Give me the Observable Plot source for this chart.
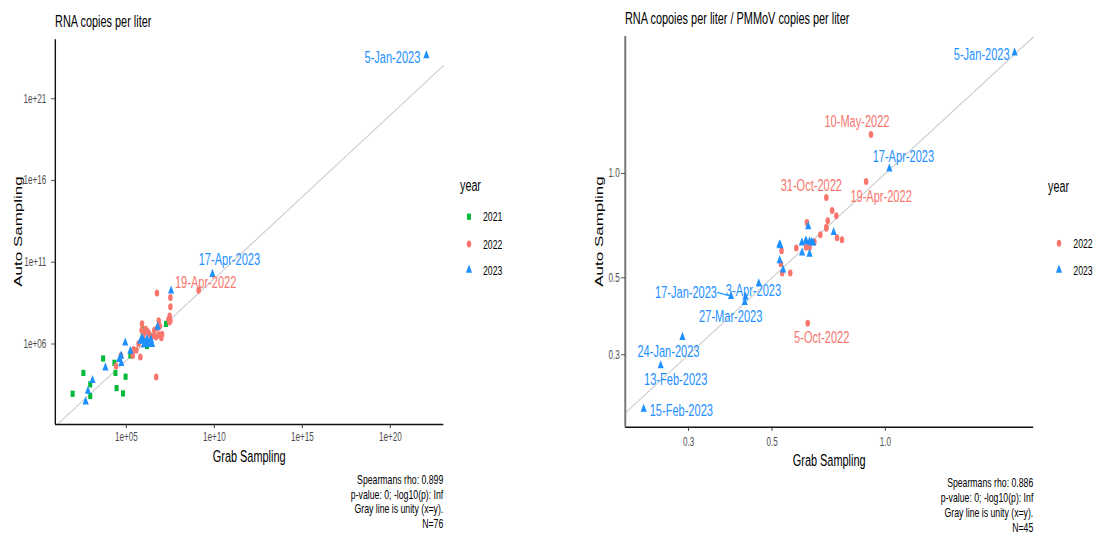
<!DOCTYPE html>
<html><head><meta charset="utf-8">
<script src="https://cdn.jsdelivr.net/npm/d3@7"></script>
<script src="https://cdn.jsdelivr.net/npm/@observablehq/plot@0.6"></script>
<style>
html,body{margin:0;padding:0;background:#fff;}
#root{position:relative;width:1095px;height:533px;overflow:hidden;font-family:"Liberation Sans",Arial,sans-serif;}
#wide{position:absolute;left:0;top:0;height:533px;transform-origin:0 0;}
#wide > *{position:absolute;top:0;}
</style></head><body><div id="root"><div id="wide"></div></div>
<script>
// ---------- Panel 1: RNA copies per liter ----------
const rnaGrab2021 = [89, 363, 891, 891, 4.8e3, 2.1e4, 2.4e4, 2.8e4, 6.5e4, 9.1e4, 1.7e5, 9.5e5, 1.5e6, 3.0e6, 1.8e7, 8.5e5];
const rnaAuto2021 = [910, 1.7e4, 660, 3.4e3, 1.3e5, 7.1e4, 1.7e4, 2.0e3, 950, 1.0e4, 2.0e5, 7.9e6, 7.6e5, 3.1e6, 1.7e7, 2.8e6];
const rnaLabels2021 = [];

const rnaGrab2022 = [1.29e9, 2.6e4, 5.0e4, 2.3e5, 2.6e5, 3.7e5, 5.0e5, 6.3e5, 7.8e5, 8.9e5, 1.05e6, 1.5e6, 1.86e6, 3.9e6, 4.9e6, 5.0e6, 5.5e6, 6.9e6, 7.9e6, 7.9e6, 9.8e6, 1.07e7, 2.5e7, 2.9e7, 3.2e7, 3.2e7, 3.2e7, 7.4e5, 5.9e6, 3.5e6, 6.9e6, 2.0e6, 2.8e7, 1.26e6];
const rnaAuto2022 = [1.95e9, 4.5e4, 2.0e5, 2.0e5, 4.7e5, 4.1e5, 1.05e6, 1.6e5, 1.74e7, 2.45e6, 4.9e6, 6.3e6, 4.9e6, 6.9e6, 2.7e6, 9.5e3, 1.32e9, 2.6e7, 1.26e7, 3.55e6, 2.45e6, 3.9e6, 3.2e7, 5.1e7, 2.6e7, 1.9e8, 6.9e8, 6.9e6, 1.0e7, 3.2e6, 3.5e6, 4.0e6, 2.2e7, 7.9e6];
const rnaLabels2022 = ["19-Apr-2022"];

const rnaGrab2023 = [1.12e22, 7.8e9, 490, 660, 1.2e3, 6.5e3, 4.0e4, 5.0e4, 5.2e4, 8.7e4, 1.7e5, 6.3e5, 7.8e5, 9.1e5, 1.5e6, 1.7e6, 2.3e6, 2.9e6, 6.0e6, 3.5e7, 1.26e6, 1.0e6, 2.5e6];
const rnaAuto2023 = [4.4e23, 1.86e10, 295, 1.32e3, 6.0e3, 3.55e4, 1.15e5, 1.86e5, 6.6e4, 1.2e6, 3.7e5, 1.5e6, 2.2e6, 1.66e6, 1.95e6, 9.5e5, 1.5e6, 9.5e5, 1.1e7, 1.78e9, 1.26e6, 8.9e5, 1.8e6];
const rnaLabels2023 = ["5-Jan-2023", "17-Apr-2023"];

const rnaXTicks = [1e5, 1e10, 1e15, 1e20];
const rnaYTicks = [1e6, 1e11, 1e16, 1e21];
const rnaXDomain = [9.25, 1.07e23];
const rnaYDomain = [12, 4e24];
const rnaCaption = ["Spearmans rho: 0.899", "p-value: 0; -log10(p): Inf", "Gray line is unity (x=y).", "N=76"];

// ---------- Panel 2: normalised by PMMoV ----------
const pmGrab2022 = [0.916, 0.889, 0.697, 0.622, 0.722, 0.741, 0.703, 0.619, 0.697, 0.672, 0.744, 0.767, 0.648, 0.616, 0.629, 0.580, 0.530, 0.528, 0.532, 0.559, 0.624, 0.697];
const pmAuto2022 = [1.296, 0.948, 0.853, 0.370, 0.782, 0.755, 0.730, 0.722, 0.699, 0.665, 0.652, 0.644, 0.634, 0.613, 0.613, 0.609, 0.598, 0.549, 0.516, 0.516, 0.628, 0.695];
const pmLabels2022 = ["10-May-2022", "19-Apr-2022", "31-Oct-2022", "5-Oct-2022"];

const pmGrab2023 = [2.206, 1.025, 0.389, 0.425, 0.423, 0.289, 0.253, 0.228, 0.624, 0.729, 0.600, 0.614, 0.629, 0.643, 0.523, 0.601, 0.629, 0.524, 0.535, 0.461, 0.617, 0.636, 0.526];
const pmAuto2023 = [2.229, 1.032, 0.442, 0.440, 0.425, 0.337, 0.279, 0.209, 0.703, 0.676, 0.631, 0.638, 0.635, 0.631, 0.623, 0.590, 0.586, 0.561, 0.527, 0.481, 0.636, 0.632, 0.620];
const pmLabels2023 = ["5-Jan-2023", "17-Apr-2023", "17-Jan-2023", "3-Apr-2023", "27-Mar-2023", "24-Jan-2023", "13-Feb-2023", "15-Feb-2023"];

const pmTicks = [0.3, 0.5, 1.0];
const pmXDomain = [0.2037, 2.477];
const pmYDomain = [0.1854, 2.483];
const pmCaption = ["Spearmans rho: 0.886", "p-value: 0; -log10(p): Inf", "Gray line is unity (x=y).", "N=45"];

const years3 = ["2021", "2022", "2023"];
const years2 = ["2022", "2023"];

// ---------- styling / layout ----------
const S = 0.65;               // horizontal squeeze of the reference rendering
const W = 1095 / S;
const FONT = "Liberation Sans, Arial, sans-serif";
const yearColors = {"2021": "#00BA38", "2022": "#F8766D", "2023": "#1E90FF"};
const yearSymbols = {"2021": "square", "2022": "circle", "2023": "triangle"};
const R = 3.5;
const TICK_FONT = 12.5;

// label placement (visible pixels relative to the point)
const nudgeLeft = {
  "5-Jan-2023": {anchor: "end", dx: -6, dy: 2},
  "17-Apr-2023": {dx: 17, dy: -15},
  "19-Apr-2022": {dx: 7, dy: -8}
};
const nudgeRight = {
  "5-Jan-2023": {anchor: "end", dx: -5, dy: 2},
  "10-May-2022": {dx: -14, dy: -13},
  "17-Apr-2023": {dx: 14, dy: -12},
  "31-Oct-2022": {dx: -15, dy: -12},
  "19-Apr-2022": {dx: 15, dy: 15},
  "5-Oct-2022": {dx: 14, dy: 14},
  "17-Jan-2023": {dx: -45, dy: -4},
  "3-Apr-2023": {dx: 8, dy: -7},
  "27-Mar-2023": {dx: -14, dy: 14},
  "24-Jan-2023": {dx: -14, dy: 14},
  "13-Feb-2023": {dx: 15, dy: 14},
  "15-Feb-2023": {anchor: "start", dx: 6, dy: 1}
};

function rowsOf(year, grab, auto, labels) {
  return grab.map((g, i) => ({year, grab: g, auto: auto[i], label: labels[i] || ""}));
}

const rnaRows = [
  ...rowsOf("2021", rnaGrab2021, rnaAuto2021, rnaLabels2021),
  ...rowsOf("2022", rnaGrab2022, rnaAuto2022, rnaLabels2022),
  ...rowsOf("2023", rnaGrab2023, rnaAuto2023, rnaLabels2023)
];
const pmRows = [
  ...rowsOf("2022", pmGrab2022, pmAuto2022, pmLabels2022),
  ...rowsOf("2023", pmGrab2023, pmAuto2023, pmLabels2023)
];

function makePanel(c) {
  const lo = Math.max(c.xDomain[0], c.yDomain[0]);
  const hi = Math.min(c.xDomain[1], c.yDomain[1]);
  const marks = [
    Plot.line([lo, hi], {x: d => d, y: d => d, stroke: "#cccccc", strokeWidth: 1.3}),
    Plot.ruleY([c.yDomain[0]], {stroke: "#111", strokeWidth: 1.6}),
    Plot.ruleX([c.xDomain[0]], {stroke: c.yAxisColor, strokeWidth: c.yAxisWidth / S}),
    Plot.axisX({ticks: c.xTicks, tickFormat: c.fmt, tickSize: 4, tickPadding: c.xPad, fontSize: TICK_FONT, fill: "#4d4d4d", stroke: "#333", strokeWidth: 1.5, label: null}),
    Plot.axisY({ticks: c.yTicks, tickFormat: c.fmt, tickSize: 4 / S, tickPadding: c.yPad / S, fontSize: TICK_FONT, fill: "#4d4d4d", stroke: "#333", label: null}),
    Plot.dot(c.rows, {x: "grab", y: "auto", symbol: "year", fill: "year", r: R})
  ];
  for (const d of c.rows.filter(d => d.label)) {
    const n = c.nudge[d.label] || {dx: 0, dy: -12};
    marks.push(Plot.text([d], {
      x: "grab", y: "auto", text: "label", fill: yearColors[d.year],
      fontSize: 17, textAnchor: n.anchor || "middle", dx: n.dx / S, dy: n.dy
    }));
  }
  const svg = Plot.plot({
    width: c.width, height: 533,
    marginLeft: c.ml, marginRight: c.mr, marginTop: c.mt, marginBottom: c.mb,
    x: {type: "log", domain: c.xDomain, label: null},
    y: {type: "log", domain: c.yDomain, label: null},
    color: {domain: c.years, range: c.years.map(y => yearColors[y])},
    symbol: {domain: c.years, range: c.years.map(y => yearSymbols[y])},
    style: {fontFamily: FONT, fontSize: TICK_FONT + "px", background: "transparent", overflow: "visible", color: "#333"},
    marks
  });
  d3.select(svg).selectAll('g[aria-label="x-axis tick label"], g[aria-label="y-axis tick label"]')
    .attr("font-size", TICK_FONT);
  return svg;
}

const expFmt = d => "1e+" + String(Math.round(Math.log10(d))).padStart(2, "0");
const decFmt = d3.format(".1f");

const wide = document.getElementById("wide");
wide.style.width = W + "px";
wide.style.transform = `scaleX(${S})`;

const leftPlot = makePanel({
  rows: rnaRows, years: years3, xDomain: rnaXDomain, yDomain: rnaYDomain,
  xTicks: rnaXTicks, yTicks: rnaYTicks, fmt: expFmt, nudge: nudgeLeft,
  width: 548 / S, ml: 55 / S, mr: (548 - 443.3) / S, mt: 39.3, mb: 533 - 424,
  xPad: 4, yPad: 5, yAxisColor: "#111", yAxisWidth: 1.4
});
leftPlot.style.left = "0px";
wide.appendChild(leftPlot);

const rightPlot = makePanel({
  rows: pmRows, years: years2, xDomain: pmXDomain, yDomain: pmYDomain,
  xTicks: pmTicks, yTicks: pmTicks, fmt: decFmt, nudge: nudgeRight,
  width: 547 / S, ml: (625 - 548) / S, mr: (1095 - 1033.3) / S, mt: 36, mb: 533 - 426.7,
  xPad: 5.5, yPad: 1.5, yAxisColor: "#777", yAxisWidth: 2
});
rightPlot.style.left = (548 / S) + "px";
wide.appendChild(rightPlot);

// connector for the repelled 17-Jan-2023 label
{
  const sx = rightPlot.scale("x"), sy = rightPlot.scale("y");
  const p = pmRows.find(d => d.label === "17-Jan-2023");
  const px = sx.apply(p.grab), py = sy.apply(p.auto);
  d3.select(rightPlot).append("line")
    .attr("x1", px - 13.5 / S).attr("y1", py - 3.5)
    .attr("x2", px - 3 / S).attr("y2", py - 0.5)
    .attr("stroke", yearColors["2023"]).attr("stroke-width", 1.2);
}

// ---------- titles, axis titles, captions, legends (wide coordinates) ----------
const ov = d3.select(wide).append("svg")
  .attr("width", W).attr("height", 533)
  .style("left", "0px").style("overflow", "visible")
  .attr("font-family", FONT);

function txt(x, y, s, size, anchor = "start", fill = "#000") {
  return ov.append("text").attr("x", x).attr("y", y).attr("font-size", size)
    .attr("text-anchor", anchor).attr("fill", fill).text(s);
}
txt(55 / S, 27.2, "RNA copies per liter", 16.8);
txt(625 / S, 23.6, "RNA copoies per liter / PMMoV copies per liter", 16.8);
txt(249.2 / S, 461.8, "Grab Sampling", 16.8, "middle");
txt(829.2 / S, 466, "Grab Sampling", 16.8, "middle");
rnaCaption.forEach((s, i) => txt(443.3 / S, 484 + i * 14.6, s, 13.4, "end"));
pmCaption.forEach((s, i) => txt(1033.3 / S, 487.4 + i * 14.9, s, 13.4, "end"));

// vertical axis titles
[[22, 231.5], [603, 231.5]].forEach(([x, y]) => {
  ov.append("text").attr("transform", `translate(${x / S},${y}) rotate(-90)`)
    .attr("text-anchor", "middle").attr("font-size", 17).attr("fill", "#000").text("Auto Sampling");
});

function legend(x, titleY, keyX, labelX, keyYs, years) {
  txt(x / S, titleY, "year", 16.6);
  years.forEach((y, i) => {
    const sym = {square: d3.symbolSquare, circle: d3.symbolCircle, triangle: d3.symbolTriangle}[yearSymbols[y]];
    ov.append("path").attr("d", d3.symbol(sym, R * R * Math.PI)())
      .attr("transform", `translate(${keyX / S},${keyYs[i]})`).attr("fill", yearColors[y]);
    txt(labelX / S, keyYs[i] + 4.7, y, 13.4);
  });
}
legend(460, 191.5, 469, 483, [216.7, 244, 270], years3);
legend(1048, 192, 1059, 1073.3, [243.3, 270], years2);
</script></body></html>
